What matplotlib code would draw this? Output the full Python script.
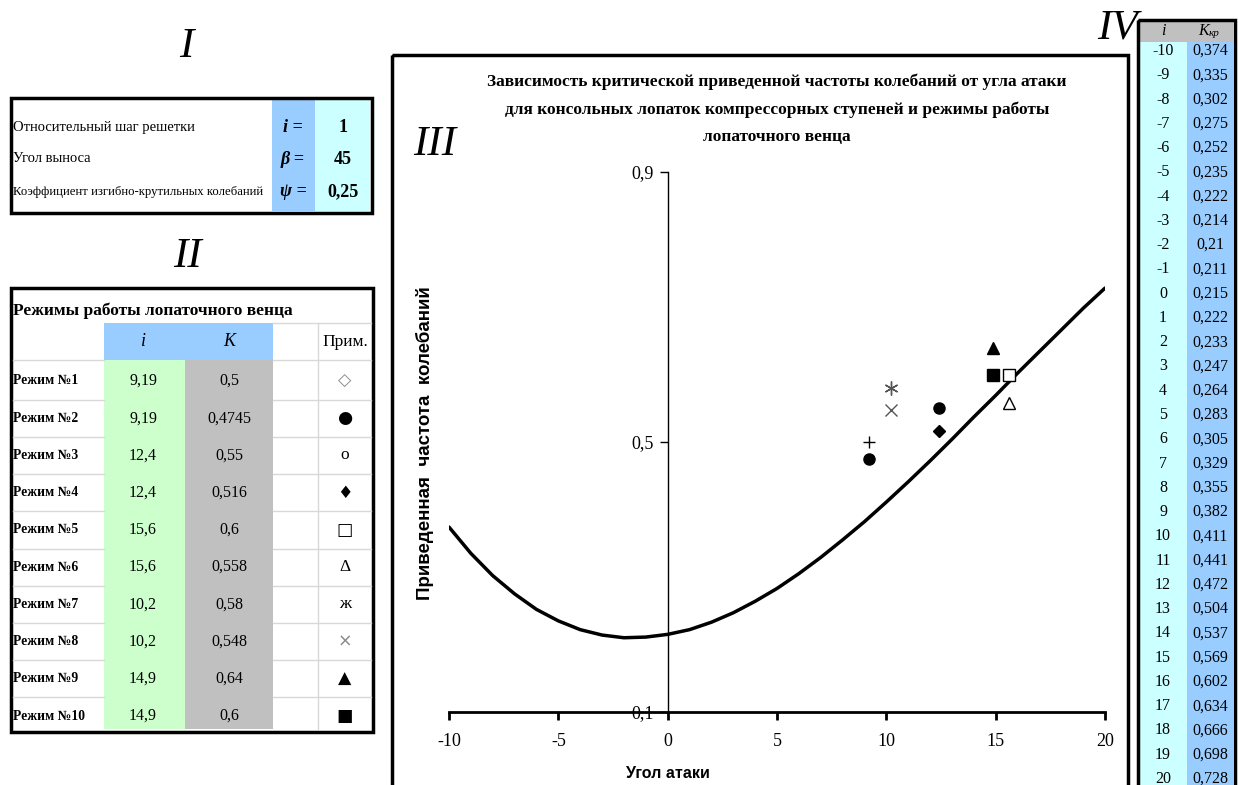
import numpy as np
import matplotlib
matplotlib.use("Agg")
import matplotlib.pyplot as plt
from matplotlib.patches import Rectangle

# --- table I: lattice parameters
param_names = ["Относительный шаг решетки", "Угол выноса",
               "Коэффициент изгибно-крутильных колебаний"]
param_symbols = ["i =", "β =", "ψ ="]
param_values = ["1", "45", "0,25"]

# --- table II: operating modes of the blade ring
mode_names = ["Режим №%d" % k for k in range(1, 11)]
mode_i = [9.19, 9.19, 12.4, 12.4, 15.6, 15.6, 10.2, 10.2, 14.9, 14.9]
mode_k = [0.5, 0.4745, 0.55, 0.516, 0.6, 0.558, 0.58, 0.548, 0.64, 0.6]
mode_notes = ["◇", "●", "o", "♦", "□", "Δ", "ж", "×", "▲", "■"]

# --- table IV: critical reduced frequency vs incidence
inc = list(range(-10, 21))
k_kr = [0.374, 0.335, 0.302, 0.275, 0.252, 0.235, 0.222, 0.214, 0.21, 0.211,
        0.215, 0.222, 0.233, 0.247, 0.264, 0.283, 0.305, 0.329, 0.355, 0.382,
        0.411, 0.441, 0.472, 0.504, 0.537, 0.569, 0.602, 0.634, 0.666, 0.698,
        0.728]

x_ticks = [-10, -5, 0, 5, 10, 15, 20]
y_ticks = [0.1, 0.5, 0.9]

# marker style of every mode on the chart
mode_style = [
    dict(marker="+", color="black", ms=9, mew=1.0),
    dict(marker="o", color="black", ms=8),
    dict(marker="o", color="black", ms=8),
    dict(marker="D", color="black", ms=6),
    dict(marker="s", mfc="white", mec="black", ms=9, mew=1.0),
    dict(marker="^", mfc="white", mec="black", ms=9, mew=1.0),
    dict(marker=(6, 2, 0), color="#555555", ms=10, mew=1.0),
    dict(marker="x", color="#555555", ms=8, mew=1.0),
    dict(marker="^", color="black", ms=9),
    dict(marker="s", color="black", ms=9),
]


def fmt(v):
    return str(v).replace(".", ",")


W, H = 1239, 785
SERIF = "Liberation Serif"
SANS = "Liberation Sans"
SYM = ["DejaVu Sans"]

fig = plt.figure(figsize=(W / 100, H / 100), dpi=100)
bg = fig.add_axes([0, 0, 1, 1])
bg.set_xlim(0, W)
bg.set_ylim(H, 0)
bg.axis("off")


def box(x0, y0, x1, y1, **kw):
    bg.add_patch(Rectangle((x0, y0), x1 - x0, y1 - y0, **kw))


def txt(x, y, s, **kw):
    kw.setdefault("family", SERIF)
    kw.setdefault("va", "center")
    bg.text(x, y, s, **kw)


# roman numerals
for s, x, y in [("I", 186, 47), ("II", 188, 257), ("III", 435, 145), ("IV", 1117, 28)]:
    txt(x, y, s, fontsize=31, style="italic", ha="center")

# ---------- table I
box(272, 100, 315, 211, color="#99CCFF", lw=0)
box(315, 100, 370, 211, color="#CCFFFF", lw=0)
box(11, 98, 372, 213, fill=False, ec="black", lw=2.5)
rows1 = [127, 159, 192]
for k, y in enumerate(rows1):
    fs = 9.2 if k == 2 else 10.5
    txt(13, y, param_names[k], fontsize=fs)
    txt(293, y, param_symbols[k], fontsize=13, style="italic", weight="bold", ha="center")
    txt(343, y, param_values[k], fontsize=13, weight="bold", ha="center")

# ---------- table II
rows2 = np.linspace(381, 716, len(mode_names))
step = rows2[1] - rows2[0]
box(104, 323, 273, 360, color="#99CCFF", lw=0)
box(104, 360, 185, 729, color="#CCFFCC", lw=0)
box(185, 360, 273, 729, color="#C0C0C0", lw=0)
for y in list(rows2[:-1] + step / 2) + [360]:
    bg.plot([13, 104], [y, y], color="#D8D8D8", lw=1)
    bg.plot([273, 371], [y, y], color="#D8D8D8", lw=1)
bg.plot([273, 371], [323, 323], color="#D8D8D8", lw=1)
bg.plot([318, 318], [323, 729], color="#D8D8D8", lw=1)
box(11, 288, 373, 732, fill=False, ec="black", lw=2.5)
txt(13, 311, "Режимы работы лопаточного венца", fontsize=12.5, weight="bold")
txt(143, 342, "i", fontsize=13, style="italic", ha="center")
txt(229, 342, "K", fontsize=13, style="italic", ha="center")
txt(345, 342, "Прим.", fontsize=12.5, ha="center")
for k, y in enumerate(rows2):
    txt(13, y, mode_names[k], fontsize=9.8, weight="bold")
    txt(143, y, fmt(mode_i[k]), fontsize=11.5, ha="center")
    txt(229, y, fmt(mode_k[k]), fontsize=11.5, ha="center")
    note = mode_notes[k]
    col = "#888888" if note in "◇×" else "black"
    if note in "oΔж":
        txt(345, y, note, fontsize=12.5, ha="center", color=col)
    else:
        txt(345, y, note, fontsize=12.5, ha="center", color=col, family=SYM)

# ---------- table IV
box(1140, 22, 1233, 42, color="#C0C0C0", lw=0)
box(1140, 42, 1187, 790, color="#CCFFFF", lw=0)
box(1187, 42, 1233, 790, color="#99CCFF", lw=0)
box(1138, 20, 1235, 795, fill=False, ec="black", lw=2.5)
txt(1163, 31, "i", fontsize=11.5, style="italic", ha="center")
txt(1209, 31, "K", fontsize=11.5, style="italic", ha="right")
txt(1209, 34, "кр", fontsize=8, style="italic", ha="left")
rows4 = np.linspace(51, 779, len(inc))
for k, y in enumerate(rows4):
    txt(1163, y, fmt(inc[k]), fontsize=11.5, ha="center")
    txt(1210, y, fmt(k_kr[k]), fontsize=11.5, ha="center")

# ---------- chart frame and captions
box(392, 55, 1128, 795, fill=False, ec="black", lw=2.5)
title = ["Зависимость критической приведенной частоты колебаний от угла атаки",
         "для консольных лопаток компрессорных ступеней и режимы работы",
         "лопаточного венца"]
for y, line in zip([82, 110, 137], title):
    txt(777, y, line, fontsize=12.5, weight="bold", ha="center")
txt(425, 443, "Приведенная  частота  колебаний", family=SANS, fontsize=13.5,
    weight="bold", rotation=90, ha="center")
txt(668, 773, "Угол атаки", family=SANS, fontsize=11.5, weight="bold", ha="center")

# ---------- chart
ax = fig.add_axes([449 / W, 1 - 712 / H, (1105 - 449) / W, (712 - 172) / H])
ax.patch.set_alpha(0)
ax.plot(inc, k_kr, color="black", lw=2.5, solid_capstyle="round")
for k in range(len(mode_i)):
    ax.plot(mode_i[k], mode_k[k], ls="none", **mode_style[k])
ax.set_xlim(-10, 20)
ax.set_ylim(0.1, 0.9)
ax.spines["top"].set_visible(False)
ax.spines["right"].set_visible(False)
ax.spines["left"].set_position(("data", 0))
ax.spines["left"].set_linewidth(1.0)
ax.spines["bottom"].set_linewidth(2.0)
ax.set_xticks(x_ticks)
ax.set_xticklabels([fmt(v) for v in x_ticks], family=SERIF, fontsize=13)
ax.set_yticks(y_ticks)
ax.set_yticklabels([fmt(v) for v in y_ticks], family=SERIF, fontsize=13)
ax.tick_params(axis="x", direction="out", length=6, width=2.0, pad=9)
ax.tick_params(axis="y", direction="out", length=6, width=1.0, pad=4)
for lab in ax.get_yticklabels():
    lab.set_bbox(dict(facecolor="white", edgecolor="none", pad=0.5))

fig.savefig("out.png", dpi=100)
